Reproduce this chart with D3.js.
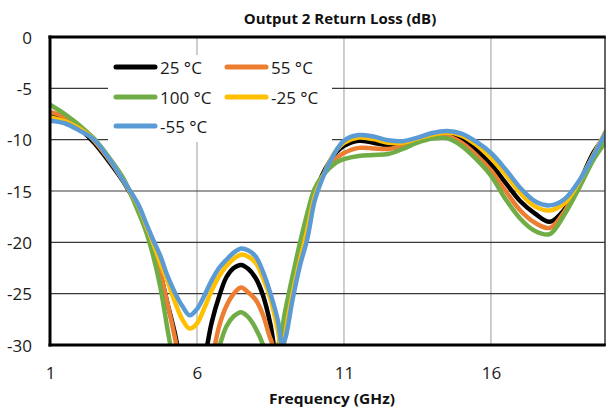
<!DOCTYPE html>
<html><head><meta charset="utf-8">
<script src="https://cdn.jsdelivr.net/npm/d3@7"></script>
<style>body{margin:0;background:#fff}svg{display:block}</style>
</head><body><svg id="c" width="608" height="414"></svg>
<script>
// ---- data ----
const freq = [1,1.5,2,2.5,3,3.5,4,4.25,4.5,4.75,5,5.25,5.5,5.75,6,6.25,6.5,6.75,7,7.25,7.5,7.75,8,8.25,8.5,8.75,8.9,9,9.25,9.5,9.75,10,10.25,10.5,10.75,11,11.5,12,12.5,13,13.5,14,14.5,15,15.5,16,16.5,17,17.5,18,18.5,19,19.5,19.9];
const t25 = [-7.6,-8.0,-8.9,-10.3,-12.1,-14.1,-16.6,-18.3,-20.3,-23.0,-26.0,-28.9,-32.5,-34.5,-34.5,-31.5,-27.8,-25.3,-23.4,-22.5,-22.2,-22.6,-23.5,-25.2,-28.0,-32.0,-29.4,-28.1,-24.8,-21.4,-18.4,-15.3,-13.5,-12.2,-11.2,-10.6,-10.1,-10.3,-10.55,-10.5,-10.0,-9.6,-9.45,-10.0,-11.0,-12.4,-14.2,-16.0,-17.2,-18.0,-16.8,-14.2,-11.2,-9.6];
const t55 = [-7.3,-7.8,-8.7,-10.1,-11.9,-14.0,-16.5,-18.3,-20.5,-23.0,-26.0,-29.3,-33,-35,-35,-34,-31.5,-28.2,-26.2,-25.0,-24.4,-24.9,-25.6,-27.1,-29.4,-31.0,-29.0,-27.6,-24.0,-20.8,-17.9,-15.1,-13.7,-12.6,-11.8,-11.3,-10.8,-10.85,-10.9,-10.6,-10.1,-9.7,-9.65,-10.3,-11.5,-13.0,-15.0,-16.9,-18.1,-18.6,-17.0,-14.3,-11.5,-9.8];
const t100 = [-6.6,-7.5,-8.6,-9.9,-11.7,-13.8,-17.0,-18.8,-21.2,-24.3,-28.5,-32.5,-36,-37,-37,-36,-33.5,-30.3,-28.2,-27.2,-26.8,-27.3,-28.4,-30.0,-32.5,-30.2,-28.3,-26.7,-23.3,-20.1,-17.2,-14.8,-13.6,-12.8,-12.2,-11.9,-11.6,-11.5,-11.4,-10.9,-10.3,-9.9,-9.85,-10.6,-11.9,-13.5,-15.8,-17.7,-18.9,-19.2,-17.3,-14.7,-11.9,-10.2];
const tm25 = [-7.8,-8.2,-8.9,-10.0,-11.8,-14.0,-16.4,-18.2,-20.0,-22.0,-23.8,-25.8,-27.5,-28.4,-27.9,-26.4,-24.7,-23.3,-22.3,-21.6,-21.2,-21.4,-22.0,-23.5,-25.5,-28.6,-31.0,-29.0,-25.0,-21.8,-18.8,-15.6,-13.8,-12.2,-11.0,-10.3,-9.8,-9.95,-10.3,-10.3,-9.9,-9.5,-9.3,-9.6,-10.5,-11.8,-13.4,-15.2,-16.5,-16.9,-16.2,-14.1,-11.4,-9.2];
const tm55 = [-8.15,-8.4,-9.1,-10.0,-11.8,-14.0,-16.3,-18.0,-19.7,-21.3,-23.3,-24.9,-26.2,-27.1,-26.5,-25.2,-23.7,-22.5,-21.7,-21.0,-20.6,-20.8,-21.4,-22.9,-25.0,-27.6,-30.0,-29.4,-25.6,-22.3,-19.7,-16.0,-13.9,-12.3,-11.0,-10.1,-9.55,-9.7,-10.05,-10.15,-9.8,-9.35,-9.15,-9.4,-10.2,-11.3,-12.9,-14.7,-16.0,-16.4,-15.8,-14.0,-11.5,-9.3];
const seriesNames = ["25 °C","55 °C","100 °C","-25 °C","-55 °C"];
const seriesValues = [t25, t55, t100, tm25, tm55];
const seriesColors = ["#000000","#ED7D31","#70AD47","#FFC000","#5B9BD5"];
const xTicks = [1,6,11,16];
const yTicks = [0,-5,-10,-15,-20,-25,-30];
const chartTitle = "Output 2 Return Loss (dB)";
const xTitle = "Frequency (GHz)";

// ---- layout ----
const X0 = 50, X1 = 605, Y0 = 37, Y1 = 345;
const svg = d3.select("#c");
const x = d3.scaleLinear().domain([1, 19.88]).range([X0, X1]);
const y = d3.scaleLinear().domain([-30, 0]).range([Y1, Y0]);
const FONT = "'Open Sans', 'Liberation Sans', sans-serif";
const fmt = d => String(d);

svg.append("rect").attr("width",608).attr("height",414).attr("fill","#fff");

// gridlines
svg.append("g").selectAll("line").data(xTicks.filter(d => d > 1)).join("line")
  .attr("x1", d => x(d)).attr("x2", d => x(d)).attr("y1", Y0).attr("y2", Y1)
  .attr("stroke", "#bdbdbd").attr("stroke-width", 1.5);
svg.append("g").selectAll("line").data(yTicks.filter(d => d > -30 && d < 0)).join("line")
  .attr("x1", X0).attr("x2", X1).attr("y1", d => y(d)).attr("y2", d => y(d))
  .attr("stroke", "#3a3a3a").attr("stroke-width", 1.2);

// series
svg.append("clipPath").attr("id","clip").append("rect")
  .attr("x", X0).attr("y", Y0).attr("width", X1 - X0).attr("height", Y1 - Y0);
const line = d3.line().x(d => x(d[0])).y(d => y(d[1])).curve(d3.curveCatmullRom.alpha(0.5));
const gSeries = svg.append("g").attr("clip-path","url(#clip)");
seriesValues.forEach((vals, i) => {
  gSeries.append("path")
    .datum(freq.map((f, k) => [f, vals[k]]))
    .attr("fill","none").attr("stroke", seriesColors[i]).attr("stroke-width", 4.5)
    .attr("stroke-linejoin","round").attr("stroke-linecap","round")
    .attr("d", line);
});

// borders / axes
svg.append("line").attr("x1", X1).attr("x2", X1).attr("y1", Y0).attr("y2", Y1)
  .attr("stroke","#333").attr("stroke-width",1.5);
svg.append("line").attr("x1", X0 - 1.5).attr("x2", X1 + 0.75).attr("y1", Y0).attr("y2", Y0)
  .attr("stroke","#000").attr("stroke-width",3);
svg.append("line").attr("x1", X0 - 1.5).attr("x2", X1 + 0.75).attr("y1", Y1).attr("y2", Y1)
  .attr("stroke","#000").attr("stroke-width",3);
svg.append("line").attr("x1", X0).attr("x2", X0).attr("y1", Y0 - 1.5).attr("y2", Y1 + 1.5)
  .attr("stroke","#000").attr("stroke-width",3);

// axes labels via d3 axis generators
const yAxis = d3.axisLeft(y).tickValues(yTicks).tickSize(0).tickPadding(18).tickFormat(fmt);
const gy = svg.append("g").attr("transform", `translate(${X0},0)`).call(yAxis);
gy.select(".domain").remove();
gy.selectAll("text").attr("font-family", FONT).attr("font-size", 17).attr("fill","#1a1a1a")
  .attr("dy", "0.36em");
const xAxis = d3.axisBottom(x).tickValues(xTicks).tickSize(0).tickPadding(22).tickFormat(fmt);
const gx = svg.append("g").attr("transform", `translate(0,${Y1})`).call(xAxis);
gx.select(".domain").remove();
gx.selectAll("text").attr("font-family", FONT).attr("font-size", 17).attr("fill","#1a1a1a");

// titles
function fit(sel, w) {
  const len = sel.node().getComputedTextLength();
  if (Math.abs(len - w) > 2) sel.attr("textLength", w).attr("lengthAdjust","spacingAndGlyphs");
}
const tt = svg.append("text").attr("x", 340).attr("y", 24).attr("text-anchor","middle")
  .attr("font-family", FONT).attr("font-weight","bold").attr("font-size", 15).attr("fill","#111")
  .text(chartTitle);
fit(tt, 194);
const xt = svg.append("text").attr("x", 332).attr("y", 404).attr("text-anchor","middle")
  .attr("font-family", FONT).attr("font-weight","bold").attr("font-size", 15).attr("fill","#111")
  .text(xTitle);
fit(xt, 126);

// legend
const legendPos = [[116,67],[227,67],[116,97],[227,97],[116,126]];
const gl = svg.append("g");
gl.append("rect").attr("x",108).attr("y",55).attr("width",224).attr("height",87).attr("fill","#fff");
seriesNames.forEach((n, i) => {
  const [lx, ly] = legendPos[i];
  gl.append("line").attr("x1", lx).attr("x2", lx + 39).attr("y1", ly).attr("y2", ly)
    .attr("stroke", seriesColors[i]).attr("stroke-width", 5).attr("stroke-linecap","round");
  gl.append("text").attr("x", lx + 44).attr("y", ly + 6.5)
    .attr("font-family", FONT).attr("font-size", 17).attr("fill","#1a1a1a").text(n);
});
</script></body></html>
